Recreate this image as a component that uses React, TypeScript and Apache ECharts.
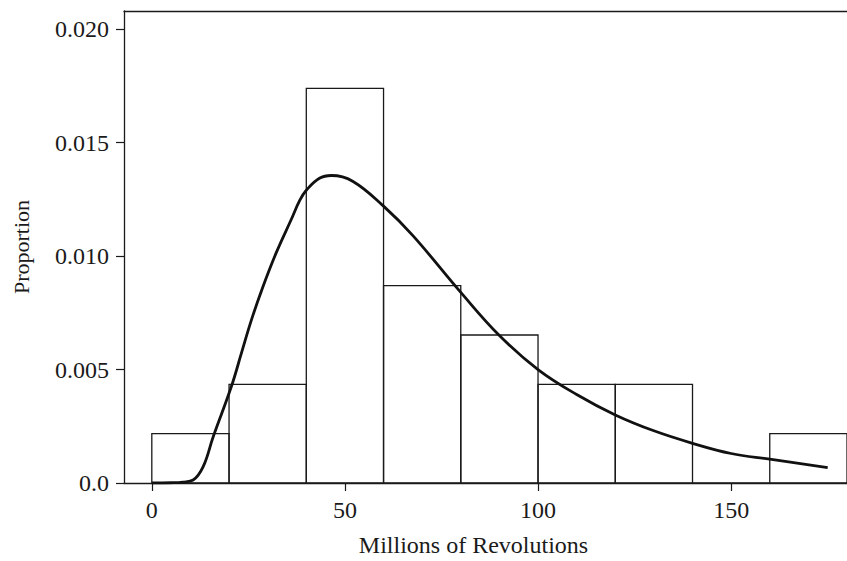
import React, { useEffect, useRef } from "react";
import * as echarts from "echarts";

const binStart = [0, 20, 40, 60, 80, 100, 120, 140, 160];
const binEnd = [20, 40, 60, 80, 100, 120, 140, 160, 180];
const proportion = [0.002174, 0.004348, 0.017391, 0.008696, 0.006522, 0.004348, 0.004348, 0, 0.002174];

const curveX = [0, 5, 8, 10.7, 13.3, 15.9, 20.6, 23.2, 25.8, 28.8, 32.2, 36.1, 38.3, 40, 43.4, 46.5, 52, 60, 67.6, 80, 90, 100, 110, 120, 130, 140, 150, 160, 175];
const curveY = [0, 0.00001, 0.00004, 0.00013, 0.00072, 0.00204, 0.00425, 0.00572, 0.00719, 0.00866, 0.01014, 0.01161, 0.01245, 0.0129, 0.01343, 0.01355, 0.0133, 0.0122, 0.0109, 0.0084, 0.0065, 0.0050, 0.0039, 0.0030, 0.0023, 0.00175, 0.0013, 0.00105, 0.00068];

const xTicks = [0, 50, 100, 150];
const yTicks = [0, 0.005, 0.01, 0.015, 0.02];

const FONT = "Liberation Serif";
const INK = "#1a1a1a";

export default function App() {
  const ref = useRef<HTMLDivElement>(null);
  useEffect(() => {
    if (!ref.current) return;
    const chart = echarts.init(ref.current, undefined, { renderer: "svg" });
    const bars = binStart.map((s, i) => [s, binEnd[i], proportion[i]]);
    const curve = curveX.map((x, i) => [x, curveY[i]]);
    chart.setOption({
      animation: false,
      backgroundColor: "#ffffff",
      grid: { left: 124, right: 0, top: 11, bottom: 78, containLabel: false, outerBoundsMode: "none" },
      xAxis: [
        {
          type: "value",
          min: -7.2,
          max: 180,
          position: "bottom",
          name: "Millions of Revolutions",
          nameLocation: "middle",
          nameGap: 50,
          nameTextStyle: { fontFamily: FONT, fontSize: 24, color: INK, padding: [0, 24, 0, 0] },
          axisLine: { show: true, onZero: false, lineStyle: { color: INK, width: 1.3 } },
          axisTick: { show: true, length: 8, customValues: xTicks, lineStyle: { color: INK, width: 1.2 } },
          axisLabel: { customValues: xTicks, fontFamily: FONT, fontSize: 24, color: INK, margin: 15 },
          splitLine: { show: false },
        },
        {
          type: "value",
          min: -7.2,
          max: 180,
          position: "top",
          axisLine: { show: true, onZero: false, lineStyle: { color: INK, width: 1.3 } },
          axisTick: { show: false },
          axisLabel: { show: false },
          splitLine: { show: false },
        },
      ],
      yAxis: {
        type: "value",
        min: 0,
        max: 0.0208,
        name: "Proportion",
        nameLocation: "middle",
        nameGap: 92,
        nameTextStyle: { fontFamily: FONT, fontSize: 22, color: INK },
        axisLine: { show: true, onZero: false, lineStyle: { color: INK, width: 1.3 } },
        axisTick: { show: true, length: 8, customValues: yTicks, lineStyle: { color: INK, width: 1.2 } },
        axisLabel: {
          customValues: yTicks,
          fontFamily: FONT,
          fontSize: 24,
          color: INK,
          margin: 15,
          formatter: (v: number) => (v === 0 ? "0.0" : v.toFixed(3)),
        },
        splitLine: { show: false },
      },
      series: [
        {
          type: "custom",
          xAxisIndex: 0,
          data: bars,
          clip: false,
          renderItem: (params: any, api: any) => {
            const p0 = api.coord([api.value(0), api.value(2)]);
            const p1 = api.coord([api.value(1), 0]);
            return {
              type: "rect",
              shape: { x: p0[0], y: p0[1], width: p1[0] - p0[0], height: p1[1] - p0[1] },
              style: { fill: "rgba(255,255,255,0)", stroke: INK, lineWidth: 1.3 },
            };
          },
          z: 2,
        },
        {
          type: "line",
          xAxisIndex: 0,
          data: curve,
          smooth: 0.4,
          showSymbol: false,
          lineStyle: { color: "#111", width: 2.8 },
          z: 3,
        },
      ],
    });
    return () => chart.dispose();
  }, []);
  return <div ref={ref} style={{ position: "fixed", left: 0, top: 0, width: 847, height: 561 }} />;
}
